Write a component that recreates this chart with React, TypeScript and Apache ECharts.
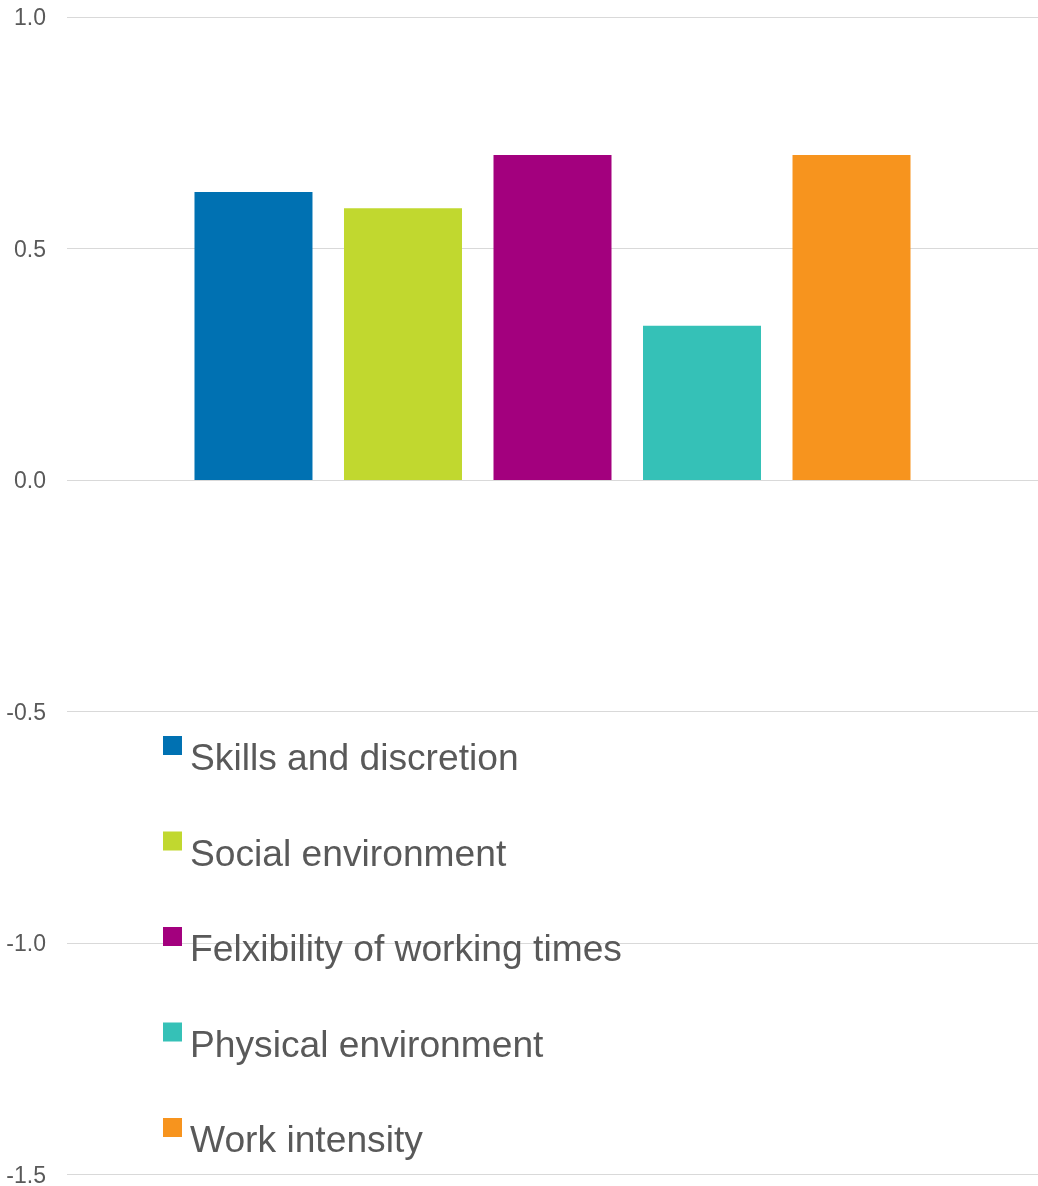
import React, { useEffect, useRef } from "react";
import * as echarts from "echarts";

const seriesNames = [
  "Skills and discretion",
  "Social environment",
  "Felxibility of working times",
  "Physical environment",
  "Work intensity",
];
const seriesValues = [0.622, 0.587, 0.702, 0.333, 0.702];
const seriesColors = ["#0071B2", "#C1D82F", "#A3007E", "#35C1B7", "#F7941E"];
const categories = [""];
const yTicks = { min: -1.5, max: 1.0, interval: 0.5 };

export default function App() {
  const ref = useRef<HTMLDivElement>(null);
  useEffect(() => {
    if (!ref.current) return;
    const chart = echarts.init(ref.current, undefined, { renderer: "svg" });
    const font = "Liberation Sans, Arial, sans-serif";
    chart.setOption({
      animation: false,
      textStyle: { fontFamily: font },
      grid: { left: 67, width: 978, top: 17, bottom: 11, containLabel: false },
      legend: {
        orient: "vertical",
        left: 163,
        top: 736,
        padding: 0,
        itemWidth: 22,
        itemHeight: 42,
        itemGap: 53.5,
        icon: "path://M0,0H19V19H0Z M22,42L22.01,42Z",
        data: seriesNames,
        textStyle: {
          fontSize: 37.2,
          lineHeight: 42,
          color: "#595959",
          fontFamily: font,
        },
      },
      xAxis: {
        type: "category",
        data: categories,
        axisLine: { show: false },
        axisTick: { show: false },
        axisLabel: { show: false },
      },
      yAxis: {
        type: "value",
        min: yTicks.min,
        max: yTicks.max,
        interval: yTicks.interval,
        axisLine: { show: false },
        axisTick: { show: false },
        splitLine: { lineStyle: { color: "#D9D9D9", width: 1 } },
        axisLabel: {
          color: "#595959",
          fontSize: 23,
          margin: 21,
          fontFamily: font,
          formatter: (v: number) => v.toFixed(1),
        },
      },
      series: seriesNames.map((name, i) => ({
        name,
        type: "bar",
        barWidth: 118,
        barGap: "26.7%",
        itemStyle: { color: seriesColors[i] },
        data: [seriesValues[i]],
      })),
    });
    return () => chart.dispose();
  }, []);
  return (
    <div
      ref={ref}
      style={{ position: "fixed", left: 0, top: 0, width: 1038, height: 1186 }}
    />
  );
}
